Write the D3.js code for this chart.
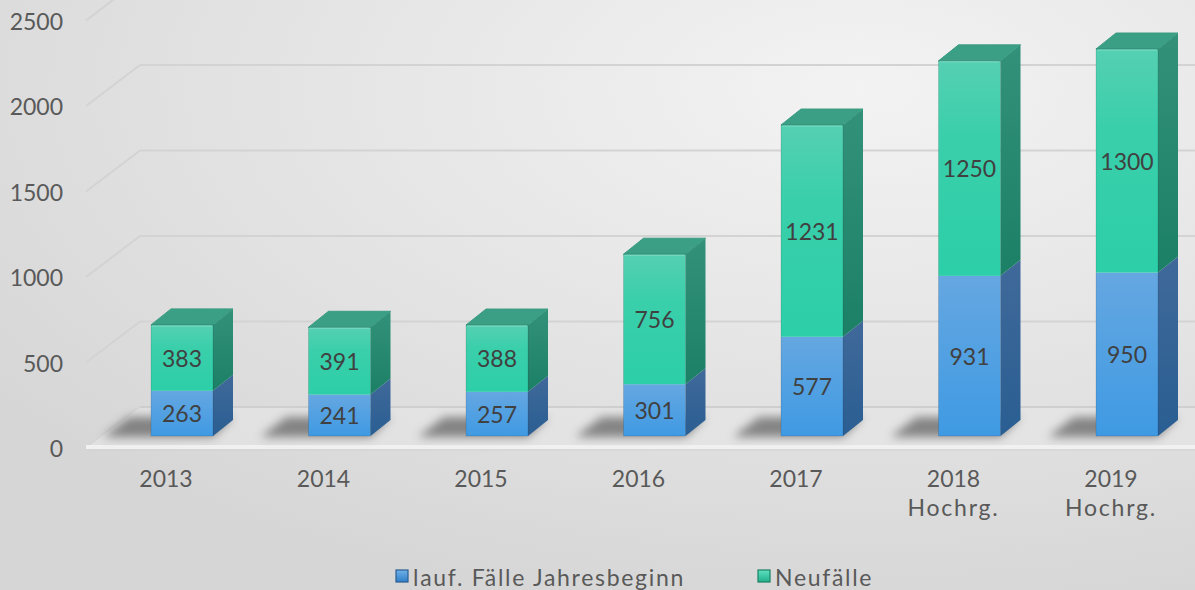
<!DOCTYPE html>
<html><head><meta charset="utf-8">
<script src="https://cdn.jsdelivr.net/npm/d3@7"></script>
<style>html,body{margin:0;padding:0;overflow:hidden;background:#e4e4e4}svg{display:block}</style>
</head><body>
<svg id="chart" width="1195" height="590"></svg>
<script>
const categories = ["2013","2014","2015","2016","2017","2018","2019"];
const categorySub = ["","","","","","Hochrg.","Hochrg."];
const laufFaelle = [263,241,257,301,577,931,950];
const neuFaelle = [383,391,388,756,1231,1250,1300];
const seriesNames = ["lauf. Fälle Jahresbeginn","Neufälle"];
const yTicks = [0,500,1000,1500,2000,2500];

const W = 1195, H = 590;
const FONT = "Lato, 'Open Sans', sans-serif";
const svg = d3.select("#chart");
const defs = svg.append("defs");

// background
const bg = defs.append("radialGradient").attr("id","bg").attr("cx","0.72").attr("cy","0.15").attr("r","0.9");
bg.append("stop").attr("offset","0").attr("stop-color","#f3f3f3");
bg.append("stop").attr("offset","0.6").attr("stop-color","#e2e2e2");
bg.append("stop").attr("offset","1").attr("stop-color","#d6d6d6");
svg.append("rect").attr("width",W).attr("height",H).attr("fill","url(#bg)");

function vgrad(id, stops){
  const g = defs.append("linearGradient").attr("id",id).attr("x1",0).attr("y1",0).attr("x2",0).attr("y2",1);
  stops.forEach(s=>g.append("stop").attr("offset",s[0]).attr("stop-color",s[1]));
}
vgrad("gFront",[[0,"#55d0b2"],[0.35,"#3acfab"],[1,"#2ccfa8"]]);
vgrad("gSide",[[0,"#33917a"],[1,"#1b8066"]]);
vgrad("bFront",[[0,"#65a7e1"],[1,"#3f9ae3"]]);
vgrad("bSide",[[0,"#40699a"],[1,"#2a5e92"]]);
vgrad("bLeg",[[0,"#6fb0e8"],[1,"#2f7fc8"]]);
vgrad("gLeg",[[0,"#5fe0c0"],[1,"#20b08c"]]);
defs.append("filter").attr("id","blur").attr("x","-50%").attr("y","-100%").attr("width","200%").attr("height","300%")
  .append("feGaussianBlur").attr("stdDeviation",5);

const colors = {
  front:["url(#bFront)","url(#gFront)"],
  side:["url(#bSide)","url(#gSide)"],
  top:["#4a84b8","#3b9f85"],
  legend:["url(#bLeg)","url(#gLeg)"]
};

// scales
const x = d3.scalePoint().domain(categories).range([182,1127]);
const yFront = d3.scaleLinear().domain([0,2500]).range([436,6]);
const yAxisFront = d3.scaleLinear().domain([0,2500]).range([448,20.5]);
const yBack = d3.scaleLinear().domain([0,2500]).range([407,-20.5]);
const BW = 62, DX = 20, DY = -16;
const axisX0 = 86, backX0 = 140;

// walls: side wall diagonals and back wall gridlines
const grid = svg.append("g");
yTicks.forEach(t=>{
  grid.append("line").attr("x1",axisX0).attr("y1",yAxisFront(t)).attr("x2",backX0).attr("y2",yBack(t))
    .attr("stroke","#d3d3d3").attr("stroke-width",2);
  if(t>0) grid.append("line").attr("x1",backX0).attr("y1",yBack(t)).attr("x2",W).attr("y2",yBack(t))
    .attr("stroke","#d3d3d3").attr("stroke-width",2.2);
});
// floor
grid.append("path").attr("d",`M${axisX0},${yAxisFront(0)}L${backX0},${yBack(0)}L${W},${yBack(0)}L${W},${yAxisFront(0)}Z`)
  .attr("fill","#e6e6e6").attr("opacity",0.6);
grid.append("line").attr("x1",backX0).attr("y1",yBack(0)).attr("x2",W).attr("y2",yBack(0))
  .attr("stroke","#cfcfcf").attr("stroke-width",2);
grid.append("line").attr("x1",axisX0).attr("y1",yAxisFront(0)-1).attr("x2",W).attr("y2",yAxisFront(0)-1)
  .attr("stroke","#f1f1f1").attr("stroke-width",4);
grid.append("line").attr("x1",axisX0).attr("y1",yAxisFront(0)+2).attr("x2",W).attr("y2",yAxisFront(0)+2)
  .attr("stroke","#d2d2d2").attr("stroke-width",1);

// stacked data
const rows = categories.map((c,i)=>({cat:c, lauf:laufFaelle[i], neu:neuFaelle[i]}));
const stack = d3.stack().keys(["lauf","neu"])(rows);

// shadows
const shadows = svg.append("g").attr("filter","url(#blur)");
categories.forEach(c=>{
  const cx = x(c), b = yFront(0);
  shadows.append("path")
    .attr("d",`M${cx-BW/2-48},${b+1}L${cx-BW/2-22},${b-19}L${cx+BW/2+DX},${b-19}L${cx+BW/2},${b+1}Z`)
    .attr("fill","#000").attr("opacity",0.42);
});

// bars
const bars = svg.append("g");
categories.forEach((c,i)=>{
  const cx = x(c), xl = cx-BW/2, xr = cx+BW/2;
  const g = bars.append("g");
  stack.forEach((s,si)=>{
    const d = s[i];
    const y0 = yFront(d[0]), y1 = yFront(d[1]);
    g.append("path").attr("d",`M${xr},${y1}L${xr+DX},${y1+DY}L${xr+DX},${y0+DY}L${xr},${y0}Z`)
      .attr("fill",colors.side[si]);
    g.append("rect").attr("x",xl).attr("y",y1).attr("width",BW).attr("height",y0-y1)
      .attr("fill",colors.front[si]);
  });
  const top = stack[1][i][1], yt = yFront(top);
  g.append("path").attr("d",`M${xl},${yt}L${xl+DX},${yt+DY}L${xr+DX},${yt+DY}L${xr},${yt}Z`)
    .attr("fill",colors.top[1]).attr("stroke","#3a9c82").attr("stroke-width",1).attr("stroke-linejoin","round");
  g.append("line").attr("x1",xl+1).attr("y1",yt+1).attr("x2",xr-1).attr("y2",yt+1).attr("stroke","#6fd8bf").attr("stroke-width",1.5);
  g.append("rect").attr("x",xl).attr("y",yt).attr("width",BW).attr("height",yFront(0)-yt)
    .attr("fill","none").attr("stroke","#000").attr("stroke-opacity",0.12).attr("stroke-width",1);

  // data labels
  stack.forEach((s,si)=>{
    const d = s[i];
    g.append("text").attr("x",cx).attr("y",(yFront(d[0])+yFront(d[1]))/2)
      .attr("text-anchor","middle").attr("dominant-baseline","central")
      .attr("font-family",FONT).attr("font-size",23).attr("fill","#404040")
      .text(si===0?laufFaelle[i]:neuFaelle[i]);
  });
});

// y axis labels
svg.append("g").selectAll("text").data(yTicks).join("text")
  .attr("x",63).attr("y",d=>yAxisFront(d)).attr("text-anchor","end").attr("dominant-baseline","central")
  .attr("font-family",FONT).attr("font-size",23).attr("fill","#595959").text(d=>d);

// category labels
const cl = svg.append("g");
categories.forEach((c,i)=>{
  cl.append("text").attr("x",x(c)-16).attr("y",478).attr("text-anchor","middle").attr("dominant-baseline","central")
    .attr("font-family",FONT).attr("font-size",23).attr("fill","#595959").text(c);
  if(categorySub[i]) cl.append("text").attr("x",x(c)-16).attr("y",507).attr("text-anchor","middle").attr("dominant-baseline","central")
    .attr("font-family",FONT).attr("font-size",23).attr("letter-spacing",1.8).attr("fill","#595959").text(categorySub[i]);
});

// legend
const legendX = [396, 758];
const lg = svg.append("g");
seriesNames.forEach((n,i)=>{
  lg.append("rect").attr("x",legendX[i]).attr("y",570).attr("width",12).attr("height",12)
    .attr("fill",colors.legend[i]).attr("stroke",i?"#1b8066":"#2a5e92").attr("stroke-width",1.2);
  lg.append("text").attr("x",legendX[i]+17).attr("y",577).attr("dominant-baseline","central")
    .attr("font-family",FONT).attr("font-size",23).attr("letter-spacing",1.7).attr("fill","#595959").text(n);
});
</script>
</body></html>
